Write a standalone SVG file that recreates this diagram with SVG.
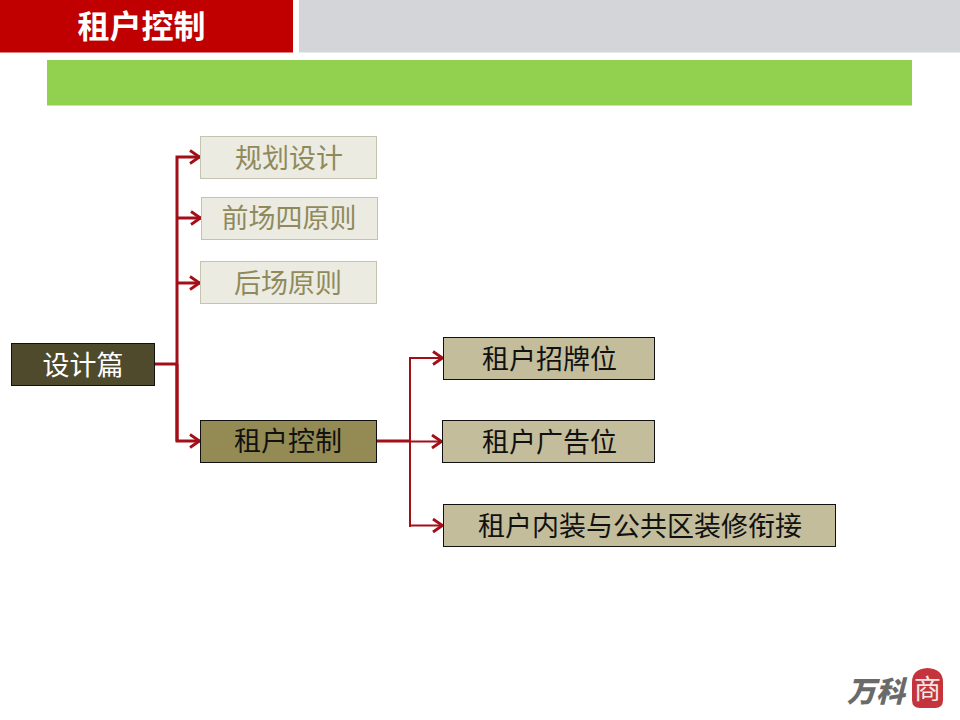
<svg xmlns="http://www.w3.org/2000/svg" width="960" height="720" viewBox="0 0 960 720">
<style>
text{font-family:"Noto Sans CJK SC","Liberation Sans",sans-serif;text-anchor:middle;font-size:27px}
.faded rect{fill:#ecebe2;stroke:#c4c3ae;stroke-width:1}
.faded text{fill:#8f8a5c}
.child rect{fill:#c3bd9b;stroke:#111;stroke-width:1}
.child text{fill:#111}
.c{fill:none;stroke:#a20f18;stroke-linejoin:miter}
.t{stroke-width:3}
.n{stroke-width:2}
</style>
<defs>
<marker id="a" markerUnits="userSpaceOnUse" markerWidth="14" markerHeight="16" refX="12" refY="8" orient="auto"><path d="M2 1.500L11.500 8L2 14.500" fill="none" stroke="#a20f18" stroke-width="2.800"/></marker>
</defs>
<g id="header">
<rect x="0" y="0" width="293" height="52.500" fill="#c00000"/>
<rect x="299" y="0" width="661" height="52.500" fill="#d4d5d8"/>
<rect x="47" y="60" width="865" height="45.500" fill="#92d050"/>
<text x="141.500" y="38" fill="#fff" font-weight="700" style="font-size:32px">租户控制</text>
</g>
<g id="connectors">
<path class="c t" d="M153 364H177"/>
<path class="c t" d="M177 441V157H200" marker-end="url(#a)"/>
<path class="c t" d="M177 218H201" marker-end="url(#a)"/>
<path class="c t" d="M177 283H200" marker-end="url(#a)"/>
<path class="c t" d="M177 364V441H200" marker-end="url(#a)"/>
<path class="c t" d="M377 441H410"/>
<path class="c n" d="M410 527V358H443" marker-end="url(#a)"/>
<path class="c n" d="M410 441.500H442" marker-end="url(#a)"/>
<path class="c n" d="M410 525.500H443" marker-end="url(#a)"/>
</g>
<g id="node-design"><rect x="11.500" y="343.500" width="143" height="42" fill="#4f4a2c" stroke="#111"/><text x="83" y="375" fill="#fff">设计篇</text></g>
<g id="node-plan" class="faded"><rect x="200.500" y="136.500" width="176" height="42"/><text x="289" y="168">规划设计</text></g>
<g id="node-front" class="faded"><rect x="201.500" y="197.500" width="176" height="42"/><text x="289" y="228">前场四原则</text></g>
<g id="node-back" class="faded"><rect x="200.500" y="261.500" width="176" height="42"/><text x="288" y="293">后场原则</text></g>
<g id="node-tenant"><rect x="200.500" y="420.500" width="176" height="42" fill="#948a54" stroke="#111"/><text x="288" y="451" fill="#111">租户控制</text></g>
<g id="node-sign" class="child"><rect x="443.500" y="337.500" width="211" height="42"/><text x="549.500" y="369">租户招牌位</text></g>
<g id="node-ad" class="child"><rect x="442.500" y="420.500" width="212" height="42"/><text x="549.500" y="452">租户广告位</text></g>
<g id="node-interior" class="child"><rect x="443.500" y="504.500" width="392" height="42"/><text x="640" y="536">租户内装与公共区装修衔接</text></g>
<g id="logo">
<text x="0" y="0" fill="#6a6a6a" font-weight="900" transform="translate(876 702) skewX(-14)" style="font-size:29px">万科</text>
<path d="M912 682Q912 669 927.500 668Q943 669 943 682V700Q943 708 935 708H920Q912 708 912 700Z" fill="#c5343c"/>
<text x="927.500" y="699" fill="#f6e6e4" style="font-size:27px">商</text>
</g>
</svg>
